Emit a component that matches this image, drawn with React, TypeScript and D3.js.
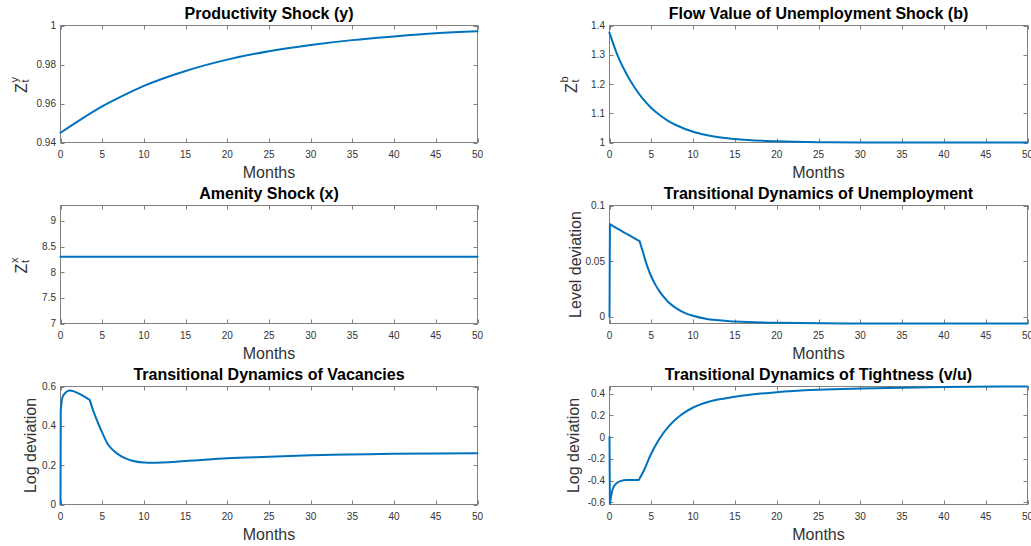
import React from "react";
import * as d3 from "d3";

// ---- data ----
const xTicks = [0, 5, 10, 15, 20, 25, 30, 35, 40, 45, 50];

const prodMonths = [0, 2.5, 5, 7.5, 10, 15, 20, 25, 30, 35, 40, 45, 50];
const prodValues = [0.945, 0.952, 0.9585, 0.964, 0.969, 0.9767, 0.9825, 0.9868, 0.99, 0.9925, 0.9944, 0.996, 0.997];

const flowMonths = [0, 1, 2, 3, 4, 5, 6, 7, 8, 10, 12, 15, 20, 25, 30, 40, 50];
const flowValues = [1.375, 1.295, 1.236, 1.188, 1.149, 1.118, 1.094, 1.074, 1.059, 1.037, 1.023, 1.012, 1.004, 1.001, 1.0003, 1.0, 1.0];

const amenityMonths = [0, 50];
const amenityValues = [8.3, 8.3];

const unempMonths = [0, 0.05, 1, 2, 3, 3.6, 4.1, 4.5, 5, 5.5, 6, 7, 8, 9, 10, 11.5, 15, 20, 30, 40, 50];
const unempValues = [0, 0.0832, 0.0789, 0.0747, 0.0705, 0.068, 0.0555, 0.0458, 0.0362, 0.0287, 0.0226, 0.0136, 0.0076, 0.0036, 0.0009, -0.0018, -0.0042, -0.0054, -0.006, -0.006, -0.006];

const vacMonths = [0, 0.03, 0.2, 0.55, 1.1, 1.7, 2.5, 3.5, 3.9, 4.3, 4.9, 5.7, 6.3, 7.3, 8.5, 10, 11, 15, 20, 25, 30, 40, 50];
const vacValues = [0, 0.48, 0.54, 0.566, 0.58, 0.574, 0.557, 0.532, 0.48, 0.435, 0.375, 0.305, 0.276, 0.245, 0.224, 0.2135, 0.2125, 0.221, 0.235, 0.243, 0.251, 0.258, 0.261];

const tightMonths = [0, 0.05, 0.3, 0.7, 1.3, 2.1, 3, 3.5, 4.1, 4.9, 5.9, 7.1, 8.5, 10, 12, 15, 20, 25, 30, 40, 50];
const tightValues = [0, -0.615, -0.5, -0.435, -0.405, -0.395, -0.394, -0.394, -0.31, -0.167, -0.025, 0.1, 0.2, 0.272, 0.328, 0.37, 0.413, 0.435, 0.447, 0.461, 0.466];

interface Panel {
    title: string;
    ylabel: string;
    sup?: string;
    sub?: string;
    months: number[];
    values: number[];
    breaks: number[];
    yDomain: [number, number];
    yTicks: number[];
    left: number;
    right: number;
    top: number;
    bottom: number;
    ylabelX: number;
}

const colL = [60.5, 477.5];
const colR = [609.5, 1027.5];
const rows = [[25.5, 142.5], [205.5, 323.5], [386.5, 504.5]];

const panels: Panel[] = [
    { title: "Productivity Shock (y)", ylabel: "Z", sup: "y", sub: "t", months: prodMonths, values: prodValues, breaks: [],
      yDomain: [0.94, 1], yTicks: [0.94, 0.96, 0.98, 1], left: colL[0], right: colL[1], top: rows[0][0], bottom: rows[0][1], ylabelX: 27 },
    { title: "Flow Value of Unemployment Shock (b)", ylabel: "Z", sup: "b", sub: "t", months: flowMonths, values: flowValues, breaks: [],
      yDomain: [1, 1.4], yTicks: [1, 1.1, 1.2, 1.3, 1.4], left: colR[0], right: colR[1], top: rows[0][0], bottom: rows[0][1], ylabelX: 577 },
    { title: "Amenity Shock (x)", ylabel: "Z", sup: "x", sub: "t", months: amenityMonths, values: amenityValues, breaks: [],
      yDomain: [7, 9.3], yTicks: [7, 7.5, 8, 8.5, 9], left: colL[0], right: colL[1], top: rows[1][0], bottom: rows[1][1], ylabelX: 27 },
    { title: "Transitional Dynamics of Unemployment", ylabel: "Level deviation", months: unempMonths, values: unempValues, breaks: [0.05, 3.6],
      yDomain: [-0.006, 0.1], yTicks: [0, 0.05, 0.1], left: colR[0], right: colR[1], top: rows[1][0], bottom: rows[1][1], ylabelX: 581 },
    { title: "Transitional Dynamics of Vacancies", ylabel: "Log deviation", months: vacMonths, values: vacValues, breaks: [0.03, 3.5],
      yDomain: [0, 0.6], yTicks: [0, 0.2, 0.4, 0.6], left: colL[0], right: colL[1], top: rows[2][0], bottom: rows[2][1], ylabelX: 36 },
    { title: "Transitional Dynamics of Tightness (v/u)", ylabel: "Log deviation", months: tightMonths, values: tightValues, breaks: [0.05, 3.5],
      yDomain: [-0.62, 0.465], yTicks: [-0.6, -0.4, -0.2, 0, 0.2, 0.4], left: colR[0], right: colR[1], top: rows[2][0], bottom: rows[2][1], ylabelX: 579 },
];

const FONT = "'Liberation Sans', Arial, Helvetica, sans-serif";
const AXIS = "#808080";
const TEXT = "#333333";
const LINE = "#0072BD";
const TICK = 4;

const App = () => {
    const svgRef = React.useRef<SVGSVGElement>(null);

    React.useEffect(() => {
        const svg = d3.select(svgRef.current);
        svg.selectAll("*").remove();

        panels.forEach((p) => {
            const x = d3.scaleLinear().domain([0, 50]).range([p.left, p.right]);
            const y = d3.scaleLinear().domain(p.yDomain).range([p.bottom, p.top]);
            const g = svg.append("g");

            // box
            g.append("rect")
                .attr("x", p.left).attr("y", p.top)
                .attr("width", p.right - p.left).attr("height", p.bottom - p.top)
                .attr("fill", "white").attr("stroke", AXIS).attr("stroke-width", 1);

            // x ticks (bottom + top, inward)
            xTicks.forEach((t) => {
                const px = Math.round(x(t)) + 0.5;
                g.append("line").attr("x1", px).attr("x2", px).attr("y1", p.bottom).attr("y2", p.bottom - TICK).attr("stroke", AXIS);
                g.append("line").attr("x1", px).attr("x2", px).attr("y1", p.top).attr("y2", p.top + TICK).attr("stroke", AXIS);
                g.append("text").attr("x", x(t)).attr("y", p.bottom + 15.5)
                    .attr("text-anchor", "middle").attr("font-size", 10).attr("fill", TEXT).attr("font-family", FONT)
                    .text(String(t));
            });

            // y ticks (left + right, inward)
            p.yTicks.forEach((v) => {
                const py = Math.round(y(v)) + 0.5;
                g.append("line").attr("x1", p.left).attr("x2", p.left + TICK).attr("y1", py).attr("y2", py).attr("stroke", AXIS);
                g.append("line").attr("x1", p.right).attr("x2", p.right - TICK).attr("y1", py).attr("y2", py).attr("stroke", AXIS);
                g.append("text").attr("x", p.left - 4.5).attr("y", y(v)).attr("dy", "0.35em")
                    .attr("text-anchor", "end").attr("font-size", 10).attr("fill", TEXT).attr("font-family", FONT)
                    .text(String(v));
            });

            // title
            g.append("text").attr("x", (p.left + p.right) / 2).attr("y", p.top - 6.5)
                .attr("text-anchor", "middle").attr("font-size", 16).attr("font-weight", "bold")
                .attr("fill", "black").attr("font-family", FONT).text(p.title);

            // x label
            g.append("text").attr("x", (p.left + p.right) / 2).attr("y", p.bottom + 35)
                .attr("text-anchor", "middle").attr("font-size", 16).attr("fill", TEXT).attr("font-family", FONT)
                .text("Months");

            // y label
            const cy = (p.top + p.bottom) / 2;
            const yl = g.append("g").attr("transform", `translate(${p.ylabelX},${cy}) rotate(-90)`)
                .attr("font-family", FONT).attr("fill", TEXT);
            if (p.sup) {
                yl.append("text").attr("x", -9).attr("y", 0).attr("font-size", 16).text(p.ylabel);
                yl.append("text").attr("x", 1.5).attr("y", -9).attr("font-size", 11).text(p.sup);
                yl.append("text").attr("x", 1.5).attr("y", 2).attr("font-size", 11).text(p.sub!);
            } else {
                yl.append("text").attr("x", 0).attr("y", 0).attr("text-anchor", "middle").attr("font-size", 16).text(p.ylabel);
            }

            // line, split at kinks so they stay sharp
            const pts: [number, number][] = p.months.map((m, i) => [m, p.values[i]]);
            const segs: [number, number][][] = [[]];
            pts.forEach((pt) => {
                segs[segs.length - 1].push(pt);
                if (p.breaks.includes(pt[0])) segs.push([pt]);
            });
            const line = d3.line<[number, number]>()
                .x((d) => x(d[0]))
                .y((d) => y(d[1]))
                .curve(d3.curveMonotoneX);
            g.append("path")
                .attr("d", segs.filter((s) => s.length > 1).map((s) => line(s)).join(""))
                .attr("fill", "none").attr("stroke", LINE).attr("stroke-width", 2)
                .attr("stroke-linejoin", "round").attr("stroke-linecap", "round");
        });
    }, []);

    return (
        <svg ref={svgRef} width={1031} height={546}
            style={{ position: "absolute", left: 0, top: 0, background: "white" }} />
    );
};

export default App;
